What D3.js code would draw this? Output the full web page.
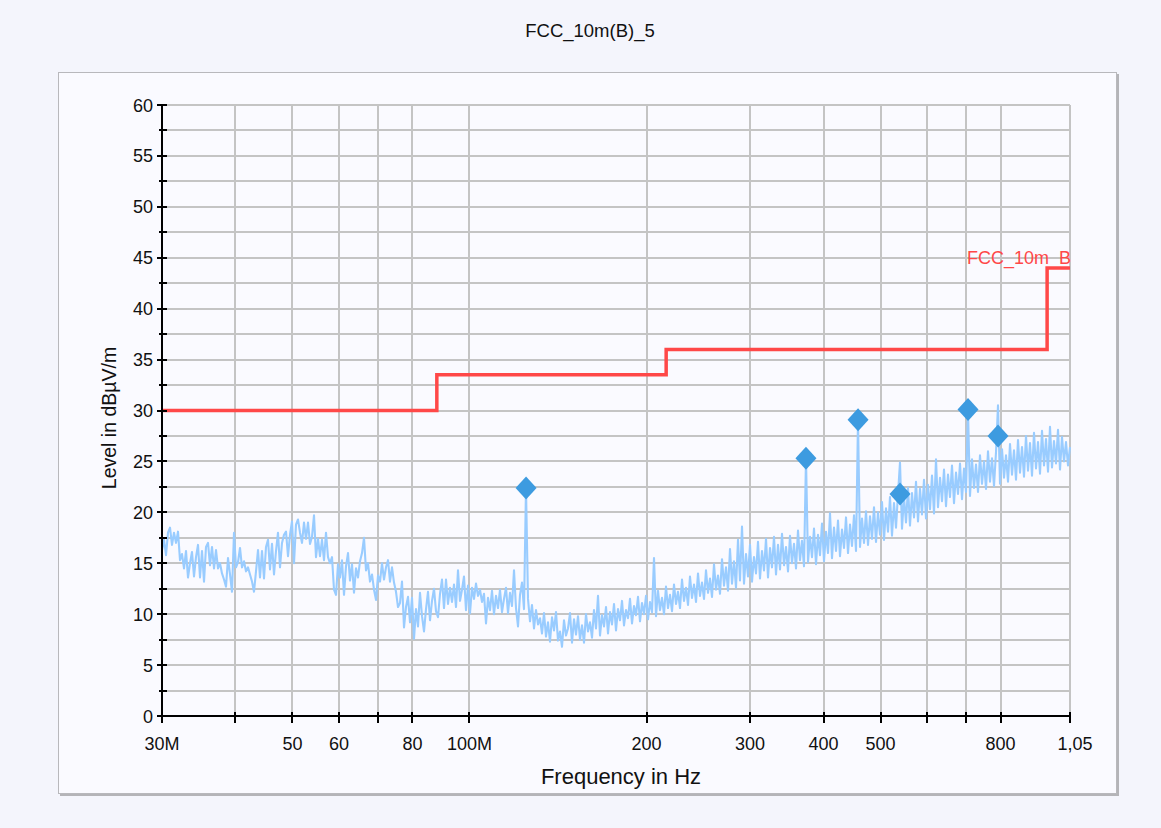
<!DOCTYPE html>
<html>
<head>
<meta charset="utf-8">
<script src="https://cdn.jsdelivr.net/npm/d3@7"></script>
<style>
  html, body { margin: 0; padding: 0; background: #f4f5fc; }
  svg { display: block; font-family: "Liberation Sans", Arial, Helvetica, sans-serif; }
</style>
</head>
<body>
<svg id="chart" width="1161" height="828"></svg>
<script>
// ---- Data -------------------------------------------------------------
const chartTitle = "FCC_10m(B)_5";
const limitName = "FCC_10m_B";

// Sweep: start/stop frequency (Hz), log-spaced measurement points
const sweepStart = 30e6;
const sweepStop = 1.05e9;

// Peak trace levels (dBµV/m), one per sweep point
const traceLevels = [
  16.3,17.3,15.8,18.0,18.5,16.8,18.0,17.0,18.1,15.3,15.9,14.5,16.2,13.6,15.0,16.1,13.7,15.6,16.8,13.6,
  16.2,13.2,16.6,17.0,14.8,16.6,14.5,16.3,14.5,15.0,14.0,13.4,12.7,15.5,13.9,12.2,18.0,14.6,15.1,16.5,
  14.6,15.2,14.2,14.6,13.9,13.2,12.2,14.2,16.3,13.6,16.2,13.5,16.6,17.3,14.4,16.9,13.9,16.2,18.0,14.6,
  17.0,17.8,18.1,15.7,17.8,19.1,15.0,18.8,19.3,18.0,17.0,19.0,17.4,19.0,16.9,17.6,19.7,15.6,17.4,15.7,
  17.3,15.3,18.0,15.6,15.0,15.6,12.4,11.9,14.9,13.6,15.3,11.9,14.7,16.0,13.3,14.9,12.1,14.5,13.6,15.2,
  16.0,17.5,14.3,15.0,13.2,13.9,12.4,11.4,13.8,13.2,15.0,13.4,14.6,15.3,13.2,14.6,13.1,12.2,10.7,11.1,
  13.2,8.7,10.7,11.7,9.2,11.6,7.6,10.5,8.8,12.1,9.8,8.3,10.5,12.2,9.4,11.3,12.5,10.3,9.7,12.0,
  13.4,10.6,13.4,11.0,12.6,11.2,12.9,10.7,14.3,11.3,12.4,13.7,10.4,12.8,10.1,12.6,11.5,13.0,11.8,12.4,
  11.2,12.0,9.1,11.6,10.4,12.3,10.0,11.8,10.6,12.4,10.2,11.5,12.6,10.1,12.1,10.8,14.3,10.6,8.8,11.9,
  13.1,10.5,22.4,11.5,9.3,10.9,8.6,10.4,9.0,9.6,8.1,10.1,7.8,9.2,7.3,9.7,8.4,10.2,7.4,8.3,
  6.8,9.4,7.9,8.6,10.1,7.2,9.5,8.0,9.8,7.5,8.9,7.2,10.0,8.3,9.2,7.7,10.4,8.6,11.8,7.9,
  9.9,8.8,10.7,8.1,10.2,9.0,11.0,8.4,10.5,9.4,11.3,8.9,10.4,9.6,11.5,9.1,10.8,9.9,11.7,9.3,
  11.1,10.0,11.8,9.5,11.2,10.2,15.5,9.8,12.3,10.4,11.6,10.0,12.7,10.6,11.9,10.3,12.9,11.0,12.2,10.6,
  13.4,11.3,12.6,10.9,13.7,11.6,12.9,11.2,14.0,11.8,13.1,11.5,14.3,12.1,13.5,11.7,14.9,12.4,13.8,12.0,
  15.4,12.8,14.6,12.3,16.4,13.0,15.2,12.6,17.3,13.3,18.6,13.0,15.9,13.7,16.8,13.2,15.6,14.0,17.1,13.5,
  16.2,14.3,17.4,13.6,16.5,14.6,17.6,13.9,16.8,14.4,17.9,14.8,16.6,14.2,17.7,15.0,16.9,14.5,18.2,15.3,
  17.2,14.7,25.3,15.1,17.6,15.6,18.4,14.9,17.8,15.8,18.9,15.2,18.1,16.0,19.9,15.5,18.5,16.2,19.2,15.7,
  18.3,16.5,19.5,16.0,18.8,16.7,19.7,16.2,29.1,16.6,19.4,17.0,20.1,16.8,19.6,17.4,20.5,17.1,20.0,17.8,
  21.0,17.3,20.4,18.1,21.5,17.7,20.9,18.5,21.8,24.9,18.4,21.5,19.0,22.4,18.7,21.9,19.5,23.0,19.1,22.3,
  19.8,23.2,19.4,22.7,20.3,23.6,19.9,25.2,20.5,23.4,21.1,24.2,20.6,23.7,21.5,24.6,20.9,23.9,21.8,24.8,
  21.3,24.3,22.0,30.1,21.6,25.2,22.4,24.7,22.0,25.6,22.8,25.0,22.3,26.0,23.0,25.3,22.6,25.9,30.5,22.8,
  26.2,23.4,25.6,23.0,26.7,23.7,26.1,23.2,27.1,23.9,26.4,23.5,27.5,24.1,26.8,23.6,27.8,24.3,26.9,23.8,
  28.0,24.6,27.2,24.0,28.4,24.4,27.0,24.8,28.1,24.2,27.4,25.0,26.9,24.6,26.4
];

// Limit line: band edges (Hz) and level per band (dBµV/m)
const limitEdges = [30e6, 88e6, 216e6, 960e6, 1.05e9];
const limitLevels = [30, 33.5, 36, 44];

// Final measurement markers
const markerFreqs = [124.8e6, 373.4e6, 457.9e6, 539.7e6, 704.3e6, 792.1e6];
const markerLevels = [22.4, 25.3, 29.1, 21.8, 30.1, 27.5];

// Axis ticks
const xTickValues = [30e6, 40e6, 50e6, 60e6, 70e6, 80e6, 100e6, 200e6, 300e6, 400e6, 500e6, 600e6, 700e6, 800e6, 1.05e9];
const xTickLabels = ["30M", "", "50", "60", "", "80", "100M", "200", "300", "400", "500", "", "", "800", "1,05"];
const yTickValues = d3.range(0, 60.001, 2.5);
const yTickLabels = yTickValues.map(v => (v % 5 === 0 ? String(v) : ""));

// ---- Layout -------------------------------------------------------------
const svg = d3.select("#chart");
const W = 1161, H = 828;
const plot = { left: 162, right: 1070, top: 105, bottom: 716 };

const x = d3.scaleLog().domain([sweepStart, sweepStop]).range([plot.left, plot.right]);
const y = d3.scaleLinear().domain([0, 60]).range([plot.bottom, plot.top]);

// Panel frame with a soft shadow on the right and bottom
svg.append("rect").attr("x", 0).attr("y", 0).attr("width", W).attr("height", H).attr("fill", "#f4f5fc");
svg.append("rect").attr("x", 60).attr("y", 74).attr("width", 1059).attr("height", 722).attr("fill", "#b4b4b8");
svg.append("rect").attr("x", 58.5).attr("y", 72.5).attr("width", 1058).attr("height", 721)
  .attr("fill", "#fafaff").attr("stroke", "#b8b8bc").attr("stroke-width", 1);

// Title
svg.append("text").attr("x", 590).attr("y", 37).attr("text-anchor", "middle")
  .attr("font-size", 18.5).attr("fill", "#111").text(chartTitle);

// Grid
const grid = svg.append("g").attr("stroke", "#c4c4c4").attr("stroke-width", 2).attr("shape-rendering", "crispEdges");
grid.selectAll("line.h").data(yTickValues).join("line")
  .attr("x1", plot.left).attr("x2", plot.right)
  .attr("y1", d => Math.round(y(d))).attr("y2", d => Math.round(y(d)));
grid.selectAll("line.v").data(xTickValues.slice(1)).join("line")
  .attr("y1", plot.top).attr("y2", plot.bottom)
  .attr("x1", d => Math.round(x(d))).attr("x2", d => Math.round(x(d)));

// Limit line (stepped)
const limitPts = [];
limitLevels.forEach((lv, i) => {
  limitPts.push([limitEdges[i], lv]);
  limitPts.push([limitEdges[i + 1], lv]);
});
svg.append("path")
  .attr("d", d3.line().x(d => x(d[0])).y(d => y(d[1]))(limitPts))
  .attr("fill", "none").attr("stroke", "#ff4848").attr("stroke-width", 3.5)
  .attr("stroke-linejoin", "miter");
svg.append("text").attr("x", plot.right + 1).attr("y", y(limitLevels[limitLevels.length - 1]) - 4)
  .attr("text-anchor", "end").attr("font-size", 18).attr("fill", "#ff4848").text(limitName);

// Peak trace
const n = traceLevels.length;
const sweepFreq = i => sweepStart * Math.pow(sweepStop / sweepStart, i / (n - 1));
svg.append("path")
  .attr("d", d3.line().x((d, i) => x(sweepFreq(i))).y(d => y(d))(traceLevels))
  .attr("fill", "none").attr("stroke", "#99ccff").attr("stroke-width", 2.1)
  .attr("stroke-linejoin", "round");

// Markers (diamonds)
const markers = markerFreqs.map((f, i) => ({ f, v: markerLevels[i] }));
svg.append("g").selectAll("path").data(markers).join("path")
  .attr("transform", d => `translate(${x(d.f)},${y(d.v)})`)
  .attr("d", "M0,-11.5L10.5,0L0,11.5L-10.5,0Z")
  .attr("fill", "#3d9be0");

// Axes
const yAxis = svg.append("g");
yAxis.append("line").attr("x1", plot.left).attr("x2", plot.left)
  .attr("y1", plot.top - 1).attr("y2", plot.bottom + 1).attr("stroke", "#000").attr("stroke-width", 2);
yAxis.selectAll("line.t").data(yTickValues).join("line")
  .attr("x1", (d, i) => yTickLabels[i] ? plot.left - 5 : plot.left - 3).attr("x2", plot.left + 5)
  .attr("y1", d => Math.round(y(d))).attr("y2", d => Math.round(y(d)))
  .attr("stroke", "#000").attr("stroke-width", 2);
yAxis.selectAll("text").data(yTickValues).join("text")
  .attr("x", plot.left - 9).attr("y", d => y(d) + 6.5)
  .attr("text-anchor", "end").attr("font-size", 18).attr("fill", "#111")
  .text((d, i) => yTickLabels[i]);

const xAxis = svg.append("g");
xAxis.append("line").attr("x1", plot.left - 1).attr("x2", plot.right + 1)
  .attr("y1", plot.bottom).attr("y2", plot.bottom).attr("stroke", "#000").attr("stroke-width", 2);
xAxis.selectAll("line.t").data(xTickValues).join("line")
  .attr("x1", d => Math.round(x(d))).attr("x2", d => Math.round(x(d)))
  .attr("y1", plot.bottom - 4).attr("y2", plot.bottom + 7)
  .attr("stroke", "#000").attr("stroke-width", 2);
xAxis.selectAll("text").data(xTickValues).join("text")
  .attr("x", (d, i) => x(d) + (i === xTickValues.length - 1 ? 5 : 0)).attr("y", plot.bottom + 34)
  .attr("text-anchor", "middle").attr("font-size", 18).attr("fill", "#111")
  .text((d, i) => xTickLabels[i]);

// Axis titles
svg.append("text").attr("x", 621).attr("y", 784).attr("text-anchor", "middle")
  .attr("font-size", 22).attr("fill", "#111").text("Frequency in Hz");
svg.append("text").attr("transform", "translate(116,418) rotate(-90)")
  .attr("text-anchor", "middle").attr("font-size", 19.5).attr("fill", "#111").text("Level in dBµV/m");
</script>
</body>
</html>
